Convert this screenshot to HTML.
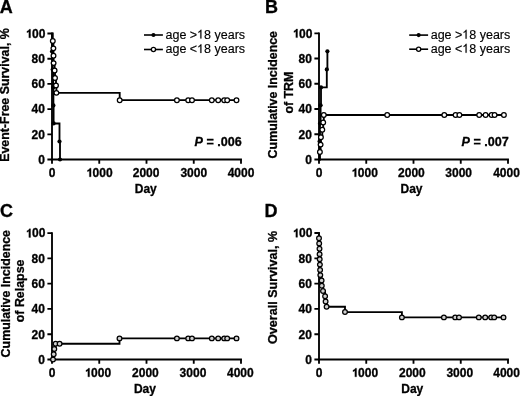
<!DOCTYPE html><html><head><meta charset="utf-8"><style>
html,body{margin:0;padding:0;background:#fff;}
svg{display:block;will-change:transform;filter:blur(0.3px);}
.t{font-family:"Liberation Sans", sans-serif;font-weight:bold;font-size:12px;fill:#000;}
.lg{font-family:"Liberation Sans", sans-serif;font-size:12.5px;fill:#000;}
.pl{font-family:"Liberation Sans", sans-serif;font-weight:bold;font-size:18px;fill:#000;}
.yt{font-family:"Liberation Sans", sans-serif;font-weight:bold;font-size:12.4px;fill:#000;}
.pv{font-family:"Liberation Sans", sans-serif;font-weight:bold;font-size:12.6px;fill:#000;}
.t,.yt,.pv,.pl{stroke:#000;stroke-width:0.3px;}
.lg{stroke:#000;stroke-width:0.15px;}
</style></head><body>
<svg width="520" height="396" viewBox="0 0 520 396">
<text x="-0.3" y="12.6" class="pl">A</text>
<text x="265" y="12.6" class="pl">B</text>
<text x="0" y="216.9" class="pl">C</text>
<text x="264.6" y="217.2" class="pl">D</text>
<path d="M52,33.5 V159.5 H241.00" fill="none" stroke="#000" stroke-width="1.85" stroke-linecap="square"/>
<text x="38.13" y="163.80" class="t">0</text>
<text x="31.46" y="138.60" class="t">20</text>
<text x="31.46" y="113.40" class="t">40</text>
<text x="31.46" y="88.20" class="t">60</text>
<text x="31.46" y="63.00" class="t">80</text>
<text x="25.38" y="37.80" class="t"><tspan style="fill:none;stroke:none">1</tspan>00</text>
<path d="M30.54,37.80 L28.86,37.80 L28.86,31.74 Q28.02,32.40 26.94,32.64 L26.94,31.14 Q28.02,30.90 28.62,30.30 Q29.10,29.82 29.28,29.21 L30.54,29.21 Z" fill="#000" stroke="#000" stroke-width="0.3" stroke-linejoin="round"/>
<text x="48.66" y="176.80" class="t">0</text>
<text x="85.91" y="176.80" class="t"><tspan style="fill:none;stroke:none">1</tspan>000</text>
<path d="M91.07,176.80 L89.39,176.80 L89.39,170.74 Q88.55,171.40 87.47,171.64 L87.47,170.14 Q88.55,169.90 89.15,169.30 Q89.63,168.82 89.81,168.21 L91.07,168.21 Z" fill="#000" stroke="#000" stroke-width="0.3" stroke-linejoin="round"/>
<text x="132.76" y="176.80" class="t">2000</text>
<text x="180.41" y="176.80" class="t">3000</text>
<text x="227.66" y="176.80" class="t">4000</text>
<path d="M47.40,159.50 H52 M47.40,134.30 H52 M47.40,109.10 H52 M47.40,83.90 H52 M47.40,58.70 H52 M47.40,33.50 H52 M52.00,159.5 V163.80 M99.25,159.5 V163.80 M146.50,159.5 V163.80 M193.75,159.5 V163.80 M241.00,159.5 V163.80" fill="none" stroke="#000" stroke-width="1.85"/>
<text x="145.80" y="192.50" text-anchor="middle" class="t">Day</text>
<path d="M319,33.3 V159.5 H508.00" fill="none" stroke="#000" stroke-width="1.85" stroke-linecap="square"/>
<text x="305.13" y="163.80" class="t">0</text>
<text x="298.46" y="138.56" class="t">20</text>
<text x="298.46" y="113.32" class="t">40</text>
<text x="298.46" y="88.08" class="t">60</text>
<text x="298.46" y="62.84" class="t">80</text>
<text x="292.38" y="37.60" class="t"><tspan style="fill:none;stroke:none">1</tspan>00</text>
<path d="M297.54,37.60 L295.86,37.60 L295.86,31.54 Q295.02,32.20 293.94,32.44 L293.94,30.94 Q295.02,30.70 295.62,30.10 Q296.10,29.62 296.28,29.01 L297.54,29.01 Z" fill="#000" stroke="#000" stroke-width="0.3" stroke-linejoin="round"/>
<text x="315.66" y="176.80" class="t">0</text>
<text x="351.11" y="176.80" class="t"><tspan style="fill:none;stroke:none">1</tspan>000</text>
<path d="M356.27,176.80 L354.59,176.80 L354.59,170.74 Q353.75,171.40 352.67,171.64 L352.67,170.14 Q353.75,169.90 354.35,169.30 Q354.83,168.82 355.01,168.21 L356.27,168.21 Z" fill="#000" stroke="#000" stroke-width="0.3" stroke-linejoin="round"/>
<text x="398.06" y="176.80" class="t">2000</text>
<text x="445.31" y="176.80" class="t">3000</text>
<text x="493.16" y="176.80" class="t">4000</text>
<path d="M314.40,159.50 H319 M314.40,134.26 H319 M314.40,109.02 H319 M314.40,83.78 H319 M314.40,58.54 H319 M314.40,33.30 H319 M319.00,159.5 V163.80 M366.25,159.5 V163.80 M413.50,159.5 V163.80 M460.75,159.5 V163.80 M508.00,159.5 V163.80" fill="none" stroke="#000" stroke-width="1.85"/>
<text x="411.50" y="192.50" text-anchor="middle" class="t">Day</text>
<path d="M52,233.1 V359.5 H241.00" fill="none" stroke="#000" stroke-width="1.85" stroke-linecap="square"/>
<text x="38.13" y="363.80" class="t">0</text>
<text x="31.46" y="338.52" class="t">20</text>
<text x="31.46" y="313.24" class="t">40</text>
<text x="31.46" y="287.96" class="t">60</text>
<text x="31.46" y="262.68" class="t">80</text>
<text x="25.38" y="237.40" class="t"><tspan style="fill:none;stroke:none">1</tspan>00</text>
<path d="M30.54,237.40 L28.86,237.40 L28.86,231.34 Q28.02,232.00 26.94,232.24 L26.94,230.74 Q28.02,230.50 28.62,229.90 Q29.10,229.42 29.28,228.81 L30.54,228.81 Z" fill="#000" stroke="#000" stroke-width="0.3" stroke-linejoin="round"/>
<text x="48.66" y="376.80" class="t">0</text>
<text x="84.41" y="376.80" class="t"><tspan style="fill:none;stroke:none">1</tspan>000</text>
<path d="M89.57,376.80 L87.89,376.80 L87.89,370.74 Q87.05,371.40 85.97,371.64 L85.97,370.14 Q87.05,369.90 87.65,369.30 Q88.13,368.82 88.31,368.21 L89.57,368.21 Z" fill="#000" stroke="#000" stroke-width="0.3" stroke-linejoin="round"/>
<text x="132.06" y="376.80" class="t">2000</text>
<text x="179.61" y="376.80" class="t">3000</text>
<text x="226.96" y="376.80" class="t">4000</text>
<path d="M47.40,359.50 H52 M47.40,334.22 H52 M47.40,308.94 H52 M47.40,283.66 H52 M47.40,258.38 H52 M47.40,233.10 H52 M52.00,359.5 V363.80 M99.25,359.5 V363.80 M146.50,359.5 V363.80 M193.75,359.5 V363.80 M241.00,359.5 V363.80" fill="none" stroke="#000" stroke-width="1.85"/>
<text x="144.90" y="392.50" text-anchor="middle" class="t">Day</text>
<path d="M319,233.0 V359.5 H508.00" fill="none" stroke="#000" stroke-width="1.85" stroke-linecap="square"/>
<text x="305.13" y="363.80" class="t">0</text>
<text x="298.46" y="338.50" class="t">20</text>
<text x="298.46" y="313.20" class="t">40</text>
<text x="298.46" y="287.90" class="t">60</text>
<text x="298.46" y="262.60" class="t">80</text>
<text x="292.38" y="237.30" class="t"><tspan style="fill:none;stroke:none">1</tspan>00</text>
<path d="M297.54,237.30 L295.86,237.30 L295.86,231.24 Q295.02,231.90 293.94,232.14 L293.94,230.64 Q295.02,230.40 295.62,229.80 Q296.10,229.32 296.28,228.71 L297.54,228.71 Z" fill="#000" stroke="#000" stroke-width="0.3" stroke-linejoin="round"/>
<text x="315.66" y="376.80" class="t">0</text>
<text x="351.41" y="376.80" class="t"><tspan style="fill:none;stroke:none">1</tspan>000</text>
<path d="M356.57,376.80 L354.89,376.80 L354.89,370.74 Q354.05,371.40 352.97,371.64 L352.97,370.14 Q354.05,369.90 354.65,369.30 Q355.13,368.82 355.31,368.21 L356.57,368.21 Z" fill="#000" stroke="#000" stroke-width="0.3" stroke-linejoin="round"/>
<text x="398.96" y="376.80" class="t">2000</text>
<text x="446.41" y="376.80" class="t">3000</text>
<text x="493.26" y="376.80" class="t">4000</text>
<path d="M314.40,359.50 H319 M314.40,334.20 H319 M314.40,308.90 H319 M314.40,283.60 H319 M314.40,258.30 H319 M314.40,233.00 H319 M319.00,359.5 V363.80 M366.25,359.5 V363.80 M413.50,359.5 V363.80 M460.75,359.5 V363.80 M508.00,359.5 V363.80" fill="none" stroke="#000" stroke-width="1.85"/>
<text x="412.30" y="392.50" text-anchor="middle" class="t">Day</text>
<path d="M52,33.50 H52.80 V40.93 H53.40 V48.37 H53.50 V55.68 H53.60 V63.11 H54.60 V70.54 H55.00 V77.98 H56.00 V85.41 H56.40 V92.85 H119.70 V100.15 H236.50" fill="none" stroke="#000" stroke-width="1.85" stroke-linejoin="miter"/>
<path d="M52,33.50 H52.00 V51.52 H52.70 V69.54 H53.20 V87.55 H53.40 V105.45 H53.60 V123.46 H59.50 V141.48 H60.00 V159.50 H60.00" fill="none" stroke="#000" stroke-width="1.85" stroke-linejoin="miter"/>
<circle cx="52.00" cy="51.52" r="2.1" fill="#000"/>
<circle cx="52.70" cy="69.54" r="2.1" fill="#000"/>
<circle cx="53.20" cy="87.55" r="2.1" fill="#000"/>
<circle cx="53.40" cy="105.45" r="2.1" fill="#000"/>
<circle cx="53.60" cy="123.46" r="2.1" fill="#000"/>
<circle cx="59.50" cy="141.48" r="2.1" fill="#000"/>
<circle cx="60.00" cy="159.50" r="2.1" fill="#000"/>
<circle cx="52.80" cy="40.93" r="2.35" fill="#fff" stroke="#000" stroke-width="1.25"/>
<circle cx="53.40" cy="48.37" r="2.35" fill="#fff" stroke="#000" stroke-width="1.25"/>
<circle cx="53.50" cy="55.68" r="2.35" fill="#fff" stroke="#000" stroke-width="1.25"/>
<circle cx="53.60" cy="63.11" r="2.35" fill="#fff" stroke="#000" stroke-width="1.25"/>
<circle cx="54.60" cy="70.54" r="2.35" fill="#fff" stroke="#000" stroke-width="1.25"/>
<circle cx="55.00" cy="77.98" r="2.35" fill="#fff" stroke="#000" stroke-width="1.25"/>
<circle cx="56.00" cy="85.41" r="2.35" fill="#fff" stroke="#000" stroke-width="1.25"/>
<circle cx="56.40" cy="92.85" r="2.35" fill="#fff" stroke="#000" stroke-width="1.25"/>
<circle cx="119.70" cy="100.15" r="2.35" fill="#fff" stroke="#000" stroke-width="1.25"/>
<circle cx="176.90" cy="100.15" r="2.35" fill="#fff" stroke="#000" stroke-width="1.25"/>
<circle cx="188.20" cy="100.15" r="2.35" fill="#fff" stroke="#000" stroke-width="1.25"/>
<circle cx="192.00" cy="100.15" r="2.35" fill="#fff" stroke="#000" stroke-width="1.25"/>
<circle cx="211.80" cy="100.15" r="2.35" fill="#fff" stroke="#000" stroke-width="1.25"/>
<circle cx="218.20" cy="100.15" r="2.35" fill="#fff" stroke="#000" stroke-width="1.25"/>
<circle cx="224.20" cy="100.15" r="2.35" fill="#fff" stroke="#000" stroke-width="1.25"/>
<circle cx="227.20" cy="100.15" r="2.35" fill="#fff" stroke="#000" stroke-width="1.25"/>
<circle cx="236.50" cy="100.15" r="2.35" fill="#fff" stroke="#000" stroke-width="1.25"/>
<path d="M319,159.50 H319.90 V152.05 H320.60 V144.61 H320.90 V137.29 H322.30 V129.84 H323.20 V122.40 H323.80 V114.95 H503.80" fill="none" stroke="#000" stroke-width="1.85" stroke-linejoin="miter"/>
<path d="M319,159.50 H319.60 V141.45 H320.00 V123.41 H320.60 V105.36 H321.00 V87.44 H326.80 V69.39 H327.40 V51.35 H327.40" fill="none" stroke="#000" stroke-width="1.85" stroke-linejoin="miter"/>
<circle cx="319.60" cy="141.45" r="2.1" fill="#000"/>
<circle cx="320.00" cy="123.41" r="2.1" fill="#000"/>
<circle cx="320.60" cy="105.36" r="2.1" fill="#000"/>
<circle cx="321.00" cy="87.44" r="2.1" fill="#000"/>
<circle cx="326.80" cy="69.39" r="2.1" fill="#000"/>
<circle cx="327.40" cy="51.35" r="2.1" fill="#000"/>
<circle cx="319.90" cy="152.05" r="2.35" fill="#fff" stroke="#000" stroke-width="1.25"/>
<circle cx="320.60" cy="144.61" r="2.35" fill="#fff" stroke="#000" stroke-width="1.25"/>
<circle cx="320.90" cy="137.29" r="2.35" fill="#fff" stroke="#000" stroke-width="1.25"/>
<circle cx="322.30" cy="129.84" r="2.35" fill="#fff" stroke="#000" stroke-width="1.25"/>
<circle cx="323.20" cy="122.40" r="2.35" fill="#fff" stroke="#000" stroke-width="1.25"/>
<circle cx="323.80" cy="114.95" r="2.35" fill="#fff" stroke="#000" stroke-width="1.25"/>
<circle cx="387.20" cy="114.95" r="2.35" fill="#fff" stroke="#000" stroke-width="1.25"/>
<circle cx="444.30" cy="114.95" r="2.35" fill="#fff" stroke="#000" stroke-width="1.25"/>
<circle cx="455.60" cy="114.95" r="2.35" fill="#fff" stroke="#000" stroke-width="1.25"/>
<circle cx="459.40" cy="114.95" r="2.35" fill="#fff" stroke="#000" stroke-width="1.25"/>
<circle cx="479.20" cy="114.95" r="2.35" fill="#fff" stroke="#000" stroke-width="1.25"/>
<circle cx="485.60" cy="114.95" r="2.35" fill="#fff" stroke="#000" stroke-width="1.25"/>
<circle cx="491.60" cy="114.95" r="2.35" fill="#fff" stroke="#000" stroke-width="1.25"/>
<circle cx="494.60" cy="114.95" r="2.35" fill="#fff" stroke="#000" stroke-width="1.25"/>
<circle cx="503.90" cy="114.95" r="2.35" fill="#fff" stroke="#000" stroke-width="1.25"/>
<path d="M52,359.50 H53.70 V354.19 H54.30 V349.01 H55.60 V343.70 H119.50 V338.39 H236.50" fill="none" stroke="#000" stroke-width="1.85" stroke-linejoin="miter"/>
<circle cx="53.00" cy="359.50" r="2.35" fill="#d0d0d0" stroke="#000" stroke-width="1.25"/>
<circle cx="53.70" cy="354.19" r="2.35" fill="#d0d0d0" stroke="#000" stroke-width="1.25"/>
<circle cx="54.30" cy="349.01" r="2.35" fill="#d0d0d0" stroke="#000" stroke-width="1.25"/>
<circle cx="55.60" cy="343.70" r="2.35" fill="#d0d0d0" stroke="#000" stroke-width="1.25"/>
<circle cx="119.50" cy="338.39" r="2.35" fill="#d0d0d0" stroke="#000" stroke-width="1.25"/>
<circle cx="59.60" cy="343.70" r="2.35" fill="#d0d0d0" stroke="#000" stroke-width="1.25"/>
<circle cx="176.90" cy="338.39" r="2.35" fill="#d0d0d0" stroke="#000" stroke-width="1.25"/>
<circle cx="188.20" cy="338.39" r="2.35" fill="#d0d0d0" stroke="#000" stroke-width="1.25"/>
<circle cx="192.00" cy="338.39" r="2.35" fill="#d0d0d0" stroke="#000" stroke-width="1.25"/>
<circle cx="211.80" cy="338.39" r="2.35" fill="#d0d0d0" stroke="#000" stroke-width="1.25"/>
<circle cx="218.20" cy="338.39" r="2.35" fill="#d0d0d0" stroke="#000" stroke-width="1.25"/>
<circle cx="224.20" cy="338.39" r="2.35" fill="#d0d0d0" stroke="#000" stroke-width="1.25"/>
<circle cx="227.20" cy="338.39" r="2.35" fill="#d0d0d0" stroke="#000" stroke-width="1.25"/>
<circle cx="236.50" cy="338.39" r="2.35" fill="#d0d0d0" stroke="#000" stroke-width="1.25"/>
<path d="M319,233.00 H319.00 V238.31 H319.20 V243.50 H319.50 V248.81 H319.60 V254.13 H319.70 V259.31 H319.90 V264.62 H320.10 V269.94 H320.30 V275.12 H321.60 V280.44 H321.80 V285.75 H323.00 V290.94 H325.10 V296.25 H325.60 V301.56 H326.60 V306.75 H345.00 V312.06 H401.90 V317.38 H503.90" fill="none" stroke="#000" stroke-width="1.85" stroke-linejoin="miter"/>
<circle cx="319.00" cy="238.31" r="2.35" fill="#d0d0d0" stroke="#000" stroke-width="1.25"/>
<circle cx="319.20" cy="243.50" r="2.35" fill="#d0d0d0" stroke="#000" stroke-width="1.25"/>
<circle cx="319.50" cy="248.81" r="2.35" fill="#d0d0d0" stroke="#000" stroke-width="1.25"/>
<circle cx="319.60" cy="254.13" r="2.35" fill="#d0d0d0" stroke="#000" stroke-width="1.25"/>
<circle cx="319.70" cy="259.31" r="2.35" fill="#d0d0d0" stroke="#000" stroke-width="1.25"/>
<circle cx="319.90" cy="264.62" r="2.35" fill="#d0d0d0" stroke="#000" stroke-width="1.25"/>
<circle cx="320.10" cy="269.94" r="2.35" fill="#d0d0d0" stroke="#000" stroke-width="1.25"/>
<circle cx="320.30" cy="275.12" r="2.35" fill="#d0d0d0" stroke="#000" stroke-width="1.25"/>
<circle cx="321.60" cy="280.44" r="2.35" fill="#d0d0d0" stroke="#000" stroke-width="1.25"/>
<circle cx="321.80" cy="285.75" r="2.35" fill="#d0d0d0" stroke="#000" stroke-width="1.25"/>
<circle cx="323.00" cy="290.94" r="2.35" fill="#d0d0d0" stroke="#000" stroke-width="1.25"/>
<circle cx="325.10" cy="296.25" r="2.35" fill="#d0d0d0" stroke="#000" stroke-width="1.25"/>
<circle cx="325.60" cy="301.56" r="2.35" fill="#d0d0d0" stroke="#000" stroke-width="1.25"/>
<circle cx="326.60" cy="306.75" r="2.35" fill="#d0d0d0" stroke="#000" stroke-width="1.25"/>
<circle cx="345.00" cy="312.06" r="2.35" fill="#d0d0d0" stroke="#000" stroke-width="1.25"/>
<circle cx="401.90" cy="317.38" r="2.35" fill="#d0d0d0" stroke="#000" stroke-width="1.25"/>
<circle cx="443.90" cy="317.38" r="2.35" fill="#d0d0d0" stroke="#000" stroke-width="1.25"/>
<circle cx="455.20" cy="317.38" r="2.35" fill="#d0d0d0" stroke="#000" stroke-width="1.25"/>
<circle cx="459.00" cy="317.38" r="2.35" fill="#d0d0d0" stroke="#000" stroke-width="1.25"/>
<circle cx="478.80" cy="317.38" r="2.35" fill="#d0d0d0" stroke="#000" stroke-width="1.25"/>
<circle cx="485.20" cy="317.38" r="2.35" fill="#d0d0d0" stroke="#000" stroke-width="1.25"/>
<circle cx="491.20" cy="317.38" r="2.35" fill="#d0d0d0" stroke="#000" stroke-width="1.25"/>
<circle cx="494.20" cy="317.38" r="2.35" fill="#d0d0d0" stroke="#000" stroke-width="1.25"/>
<circle cx="503.50" cy="317.38" r="2.35" fill="#d0d0d0" stroke="#000" stroke-width="1.25"/>
<path d="M144,35.0 H162.9" stroke="#000" stroke-width="1.6"/>
<circle cx="153.45" cy="35.0" r="2.05" fill="#000"/>
<text x="165.5" y="38.60" class="lg">age &gt;<tspan style="fill:none;stroke:none">1</tspan>8 years</text>
<path d="M201.44,38.60 L200.31,38.60 L200.31,31.60 Q199.75,32.16 199.25,32.48 Q198.75,32.79 198.38,32.91 L198.38,31.85 Q199.25,31.48 199.81,30.85 Q200.38,30.23 200.69,29.65 L201.44,29.65 Z" fill="#000" stroke="#000" stroke-width="0.15" stroke-linejoin="round"/>
<path d="M144,49.5 H162.9" stroke="#000" stroke-width="1.6"/>
<circle cx="153.45" cy="49.5" r="2.1" fill="#fff" stroke="#000" stroke-width="1.3"/>
<text x="165.5" y="53.10" class="lg">age &lt;<tspan style="fill:none;stroke:none">1</tspan>8 years</text>
<path d="M201.44,53.10 L200.31,53.10 L200.31,46.10 Q199.75,46.66 199.25,46.98 Q198.75,47.29 198.38,47.41 L198.38,46.35 Q199.25,45.98 199.81,45.35 Q200.38,44.73 200.69,44.15 L201.44,44.15 Z" fill="#000" stroke="#000" stroke-width="0.15" stroke-linejoin="round"/>
<path d="M409.2,35.1 H428.1" stroke="#000" stroke-width="1.6"/>
<circle cx="418.65" cy="35.1" r="2.05" fill="#000"/>
<text x="430.7" y="38.70" class="lg">age &gt;<tspan style="fill:none;stroke:none">1</tspan>8 years</text>
<path d="M466.64,38.70 L465.51,38.70 L465.51,31.70 Q464.95,32.26 464.45,32.58 Q463.95,32.89 463.57,33.01 L463.57,31.95 Q464.45,31.58 465.01,30.95 Q465.57,30.33 465.89,29.75 L466.64,29.75 Z" fill="#000" stroke="#000" stroke-width="0.15" stroke-linejoin="round"/>
<path d="M409.2,49.2 H428.1" stroke="#000" stroke-width="1.6"/>
<circle cx="418.65" cy="49.2" r="2.1" fill="#fff" stroke="#000" stroke-width="1.3"/>
<text x="430.7" y="52.80" class="lg">age &lt;<tspan style="fill:none;stroke:none">1</tspan>8 years</text>
<path d="M466.64,52.80 L465.51,52.80 L465.51,45.80 Q464.95,46.36 464.45,46.68 Q463.95,46.99 463.57,47.11 L463.57,46.05 Q464.45,45.68 465.01,45.05 Q465.57,44.43 465.89,43.85 L466.64,43.85 Z" fill="#000" stroke="#000" stroke-width="0.15" stroke-linejoin="round"/>
<text x="194.5" y="145.8" class="pv"><tspan font-style="italic">P</tspan> = .006</text>
<text x="461.5" y="145.8" class="pv"><tspan font-style="italic">P</tspan> = .007</text>
<text transform="translate(9.30,95.00) rotate(-90)" text-anchor="middle" class="yt">Event-Free Survival, %</text>
<text transform="translate(277.40,94.70) rotate(-90)" text-anchor="middle" class="yt">Cumulative Incidence</text>
<text transform="translate(292.70,92.60) rotate(-90)" text-anchor="middle" class="yt">of TRM</text>
<text transform="translate(10.00,293.70) rotate(-90)" text-anchor="middle" class="yt">Cumulative Incidence</text>
<text transform="translate(24.30,290.90) rotate(-90)" text-anchor="middle" class="yt">of Relapse</text>
<text transform="translate(276.6,287.4) rotate(-90)" text-anchor="middle" class="yt" style="font-size:12.55px">Overall Survival, %</text>
</svg></body></html>
